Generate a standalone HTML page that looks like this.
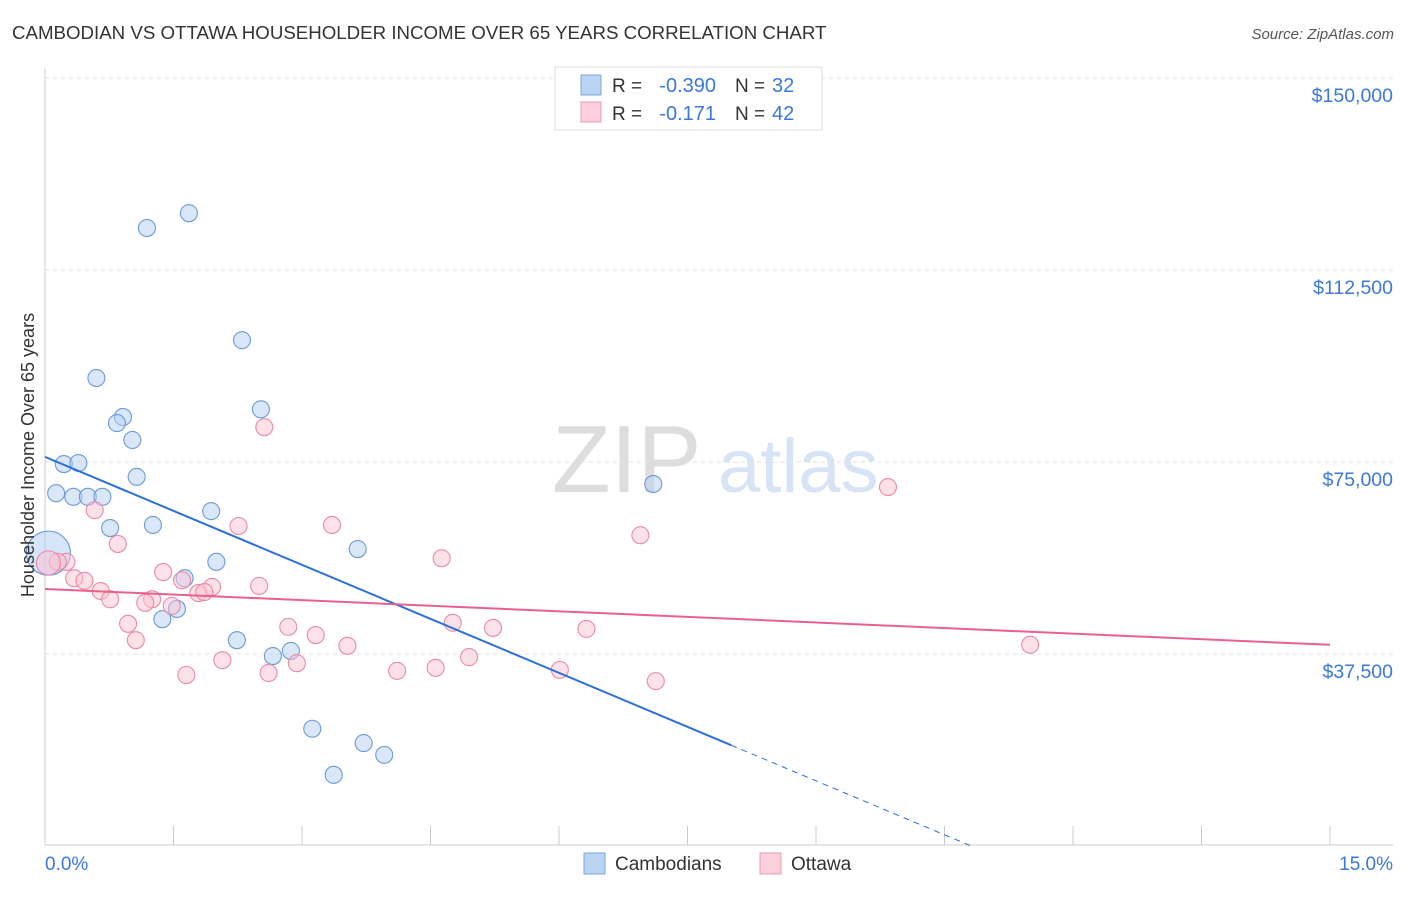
<!DOCTYPE html>
<html><head><meta charset="utf-8"><style>
body{margin:0;background:#fff;font-family:"Liberation Sans",sans-serif;}
svg text{font-family:"Liberation Sans",sans-serif;white-space:pre;}
</style></head><body>
<svg width="1406" height="892" xmlns="http://www.w3.org/2000/svg">
<text x="12" y="39" font-size="18.7" fill="#333">CAMBODIAN VS OTTAWA HOUSEHOLDER INCOME OVER 65 YEARS CORRELATION CHART</text>
<text x="1394" y="39" font-size="15" fill="#555" font-style="italic" text-anchor="end">Source: ZipAtlas.com</text>
<g>
<text x="552" y="492" font-size="96" fill="#ddd" font-family="Liberation Serif">ZIP</text>
<text x="718" y="492" font-size="76" fill="#d6e4f5">atlas</text>
</g>
<g id="grid"></g>
<g id="axes"></g>
<g id="marks"></g>
<text x="34" y="455" font-size="18" fill="#333" text-anchor="middle" transform="rotate(-90 34 455)">Householder Income Over 65 years</text>
<text x="45" y="870" font-size="19" fill="#3b78d8">0.0%</text>
<text x="1393" y="870" font-size="19" fill="#3b78d8" text-anchor="end">15.0%</text>
<g>
<rect x="555" y="67" width="267" height="63" fill="#fff" stroke="#ddd"/>
<rect x="581" y="75" width="20" height="20" fill="#bcd4f4" stroke="#7aa6e0"/>
<rect x="581" y="102" width="20" height="20" fill="#fbcfdc" stroke="#ec9ab4"/>
<text x="612" y="92" font-size="19" fill="#333">R =</text>
<text x="716" y="92" font-size="20" fill="#3b78d8" text-anchor="end">-0.390</text>
<text x="735" y="92" font-size="19" fill="#333">N =</text>
<text x="772" y="92" font-size="20" fill="#3b78d8">32</text>
<text x="612" y="120" font-size="19" fill="#333">R =</text>
<text x="716" y="120" font-size="20" fill="#3b78d8" text-anchor="end">-0.171</text>
<text x="735" y="120" font-size="19" fill="#333">N =</text>
<text x="772" y="120" font-size="20" fill="#3b78d8">42</text>
</g>
<g>
<rect x="584" y="853" width="21" height="21" fill="#bcd4f4" stroke="#7aa6e0"/>
<text x="615" y="870" font-size="19" fill="#333">Cambodians</text>
<rect x="760" y="853" width="21" height="21" fill="#fbcfdc" stroke="#ec9ab4"/>
<text x="791" y="870" font-size="19" fill="#333">Ottawa</text>
</g>
</svg>
<script>
const yTicks=[37500,75000,112500,150000];
const yTickLabels=["$37,500","$75,000","$112,500","$150,000"];
const xTicks=[0,1.5,3,4.5,6,7.5,9,10.5,12,13.5,15];
const blueX=[1.19,1.68,2.30,0.60,2.52,0.91,0.84,1.02,0.22,0.39,1.07,0.13,0.33,0.50,0.67,0.76,1.26,1.94,7.10,2.00,3.65,1.63,1.54,1.37,2.24,2.66,2.87,3.12,3.72,3.96,3.37,0.04];
const blueY=[120.7,123.6,98.8,91.4,85.3,83.8,82.6,79.3,74.6,74.8,72.1,68.9,68.2,68.2,68.2,62.1,62.7,65.4,70.7,55.5,58.0,52.3,46.3,44.3,40.2,37.1,38.1,22.9,20.1,17.8,13.9,57.2];
const pinkX=[2.56,0.58,2.26,3.35,0.85,4.63,6.95,9.84,0.25,0.15,0.34,0.46,1.38,1.60,1.95,2.50,0.65,0.76,1.25,1.17,1.79,1.86,1.48,0.97,2.84,3.16,1.06,3.53,4.76,5.23,6.32,2.07,1.65,2.61,2.94,4.11,4.56,4.95,6.01,7.13,11.50,0.04];
const pinkY=[81.8,65.6,62.5,62.7,59.0,56.2,60.7,70.1,55.5,55.5,52.3,51.8,53.5,51.9,50.6,50.8,49.8,48.2,48.2,47.5,49.4,49.6,46.9,43.4,42.8,41.2,40.2,39.1,43.6,42.6,42.4,36.3,33.4,33.8,35.7,34.2,34.8,36.9,34.4,32.2,39.3,55.3];
const blueTrend=[76.0,-7.03];
const pinkTrend=[50.2,-0.727];
const NS="http://www.w3.org/2000/svg";
const X=v=>45+v*1285/15;
const Y=v=>846-v*192/37500;
const Yk=v=>Y(v*1000);
function mk(tag,attrs,parent){const e=document.createElementNS(NS,tag);for(const k in attrs)e.setAttribute(k,attrs[k]);document.getElementById(parent).appendChild(e);return e;}
yTicks.forEach((t,i)=>{
 const l=mk('line',{x1:45,x2:1393,y1:Y(t),y2:Y(t),stroke:'#e2e2e2','stroke-dasharray':'4,4'},'grid');
 
 
 const tx=mk('text',{x:1393,y:Y(t)+24,'font-size':19.5,fill:'#3b78d8','text-anchor':'end'},'grid');
 tx.textContent=yTickLabels[i];
 
 
});
const ax=mk('line',{x1:45,x2:1393,y1:845,y2:845,stroke:'#ccc'},'axes');


const ay=mk('line',{x1:45,x2:45,y1:68,y2:845,stroke:'#ccc'},'axes');


xTicks.forEach(t=>{
 const l=mk('line',{x1:X(t),x2:X(t),y1:826,y2:845,stroke:'#ccc'},'axes');
 
 
});
function dots(xs,ys,fill,stroke,name,bigR){
 xs.forEach((x,i)=>{
  const big=i===xs.length-1;
  const c=mk('circle',{cx:X(x),cy:Yk(ys[i]),r:big?bigR:8.5,fill:fill,'fill-opacity':big?0.55:0.5,stroke:stroke,'stroke-width':1.1},'marks');
  
  
 });
}
dots(blueX,blueY,'#b5cff2','#6a9ad8','cambodian-point',22);
dots(pinkX,pinkY,'#f9c3d4','#e98aa8','ottawa-point',12);
const bEnd=8.01, bZero=-blueTrend[0]/blueTrend[1];
const bl=mk('line',{x1:X(0),y1:Yk(blueTrend[0]),x2:X(bEnd),y2:Yk(blueTrend[0]+blueTrend[1]*bEnd),stroke:'#2a6fdb','stroke-width':2},'marks');


const bd=mk('line',{x1:X(bEnd),y1:Yk(blueTrend[0]+blueTrend[1]*bEnd),x2:X(bZero),y2:Yk(0),stroke:'#2a6fdb','stroke-width':1,'stroke-dasharray':'6,5'},'marks');


const pl=mk('line',{x1:X(0),y1:Yk(pinkTrend[0]),x2:X(15),y2:Yk(pinkTrend[0]+pinkTrend[1]*15),stroke:'#e8618c','stroke-width':2},'marks');


</script>
</body></html>
